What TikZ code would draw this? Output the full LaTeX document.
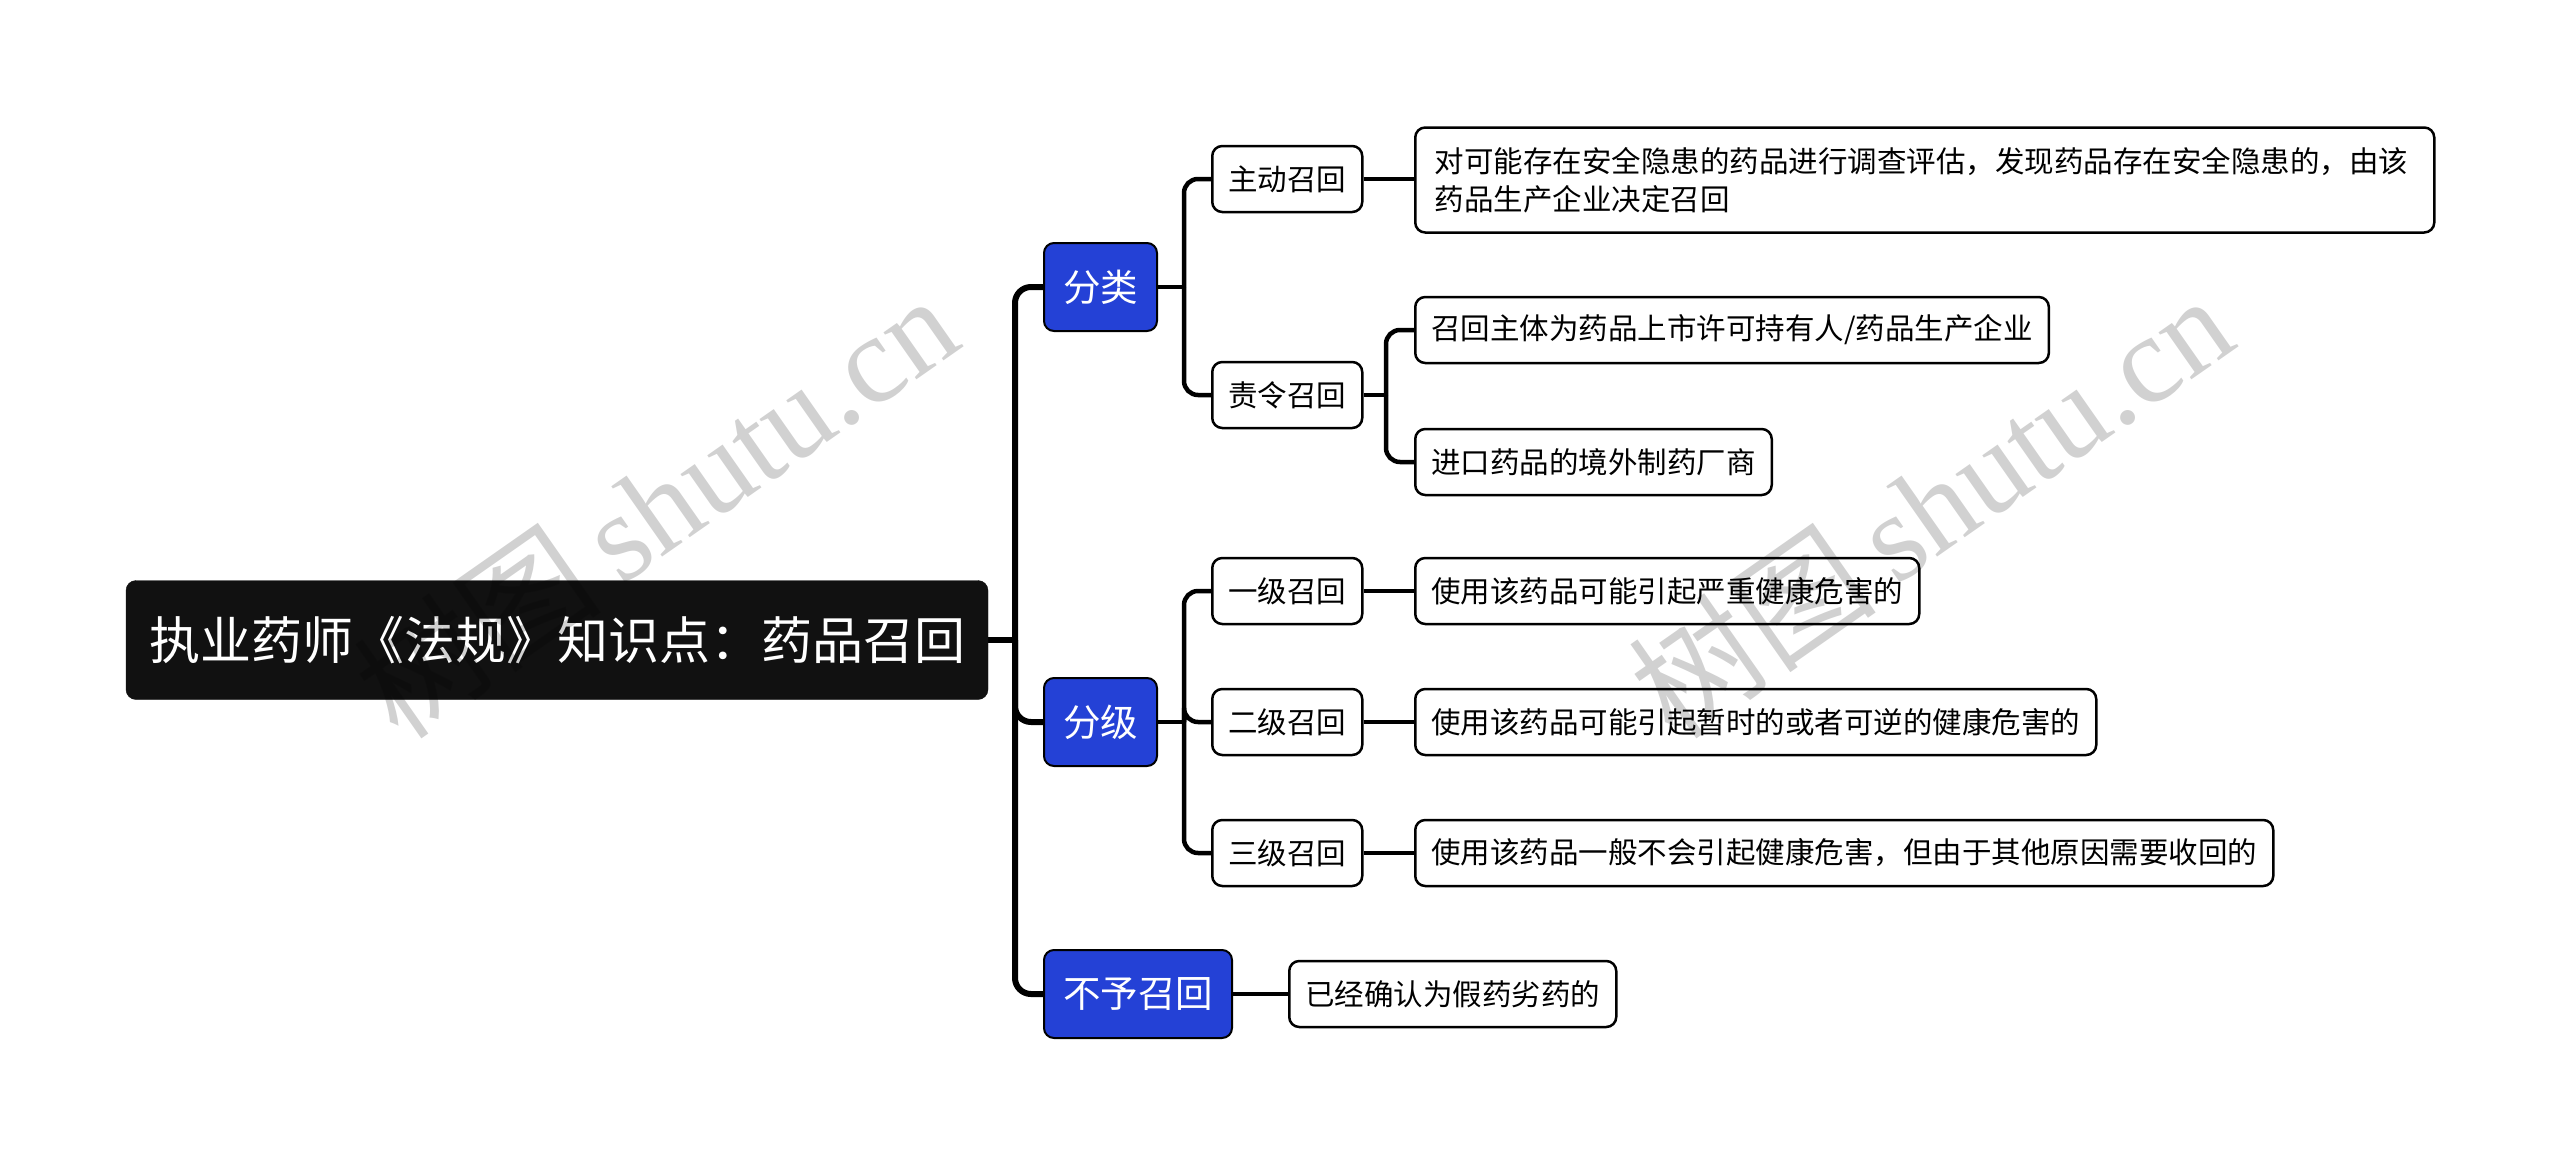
\documentclass[tikz,border=0pt]{standalone}
\usepackage{fontspec}
\setmainfont{Noto Sans CJK SC}
\newfontfamily\wmlat{Liberation Serif}
\usetikzlibrary{backgrounds}
\definecolor{rootbg}{HTML}{111111}
\definecolor{lvblue}{HTML}{2441D6}
\begin{document}
\begin{tikzpicture}[x=1pt,y=-1pt,
  rootbox/.style={fill=rootbg, draw=rootbg, rounded corners=10pt, text=white,
    minimum width=862pt, minimum height=119pt, inner sep=0pt,
    font=\fontsize{51}{60}\selectfont},
  bluebox/.style={fill=lvblue, draw=black, line width=2pt, rounded corners=10pt, text=white,
    minimum height=88pt, inner xsep=19pt, inner ysep=0pt, anchor=west,
    font=\fontsize{37.5}{45}\selectfont},
  midbox/.style={fill=white, draw=black, line width=2.5pt, rounded corners=10pt, text=black,
    minimum height=66pt, inner xsep=16pt, inner ysep=0pt, anchor=west,
    font=\fontsize{29.5}{38}\selectfont},
  leafbox/.style={midbox},
  conn0/.style={draw=black, line width=6pt, rounded corners=16pt},
  conn/.style={draw=black, line width=4.5pt, rounded corners=14pt},
  wm/.style={text=black, opacity=0.18, rotate=35, inner sep=0pt}
]
\useasboundingbox (0,0) rectangle (2560,1165);

% nodes
\node[rootbox] (root) at (557,640) {执业药师《法规》知识点：药品召回};

\node[bluebox] (fl) at (1043,287) {分类};
\node[bluebox] (fj) at (1043,722) {分级};
\node[bluebox] (bz) at (1043,994) {不予召回};

\node[midbox] (zd) at (1211,179) {主动召回};
\node[midbox] (zl) at (1211,395) {责令召回};
\node[midbox] (y1) at (1211,591) {一级召回};
\node[midbox] (y2) at (1211,722) {二级召回};
\node[midbox] (y3) at (1211,853) {三级召回};

\node[leafbox, minimum height=105pt, minimum width=1019pt, align=left, text width=980pt] (a1) at (1414,180)
  {对可能存在安全隐患的药品进行调查评估，发现药品存在安全隐患的，由该\\药品生产企业决定召回};
\node[leafbox] (b1) at (1414,330) {召回主体为药品上市许可持有人/药品生产企业};
\node[leafbox] (b2) at (1414,462) {进口药品的境外制药厂商};
\node[leafbox] (c1) at (1414,591) {使用该药品可能引起严重健康危害的};
\node[leafbox] (c2) at (1414,722) {使用该药品可能引起暂时的或者可逆的健康危害的};
\node[leafbox] (c3) at (1414,853) {使用该药品一般不会引起健康危害，但由于其他原因需要收回的};
\node[leafbox] (d1) at (1288,994) {已经确认为假药劣药的};

% junction coordinates
\coordinate (t0) at (1015,640);
\coordinate (jfl) at (1184,287);
\coordinate (jfj) at (1184,722);
\coordinate (jzl) at (1386,395);

\begin{scope}[on background layer]
\fill[white] (0,0) rectangle (2560,1165);
\draw[conn0] (root.east) -- (t0);
\draw[conn0] (t0) |- (fl.west);
\draw[conn0] (t0) |- (fj.west);
\draw[conn0] (t0) |- (bz.west);

\draw[conn] (fl.east) -- (jfl);
\draw[conn] (jfl) |- (zd.west);
\draw[conn] (jfl) |- (zl.west);

\draw[conn] (fj.east) -- (jfj);
\draw[conn] (jfj) |- (y1.west);
\draw[conn] (jfj) |- (y2.west);
\draw[conn] (jfj) |- (y3.west);

\draw[conn] (zd.east) -- (a1.west |- zd.east);
\draw[conn] (zl.east) -- (jzl);
\draw[conn] (jzl) |- (b1.west);
\draw[conn] (jzl) |- (b2.west);
\draw[conn] (y1.east) -- (c1.west);
\draw[conn] (y2.east) -- (c2.west);
\draw[conn] (y3.east) -- (c3.west);
\draw[conn] (bz.east) -- (d1.west);
\end{scope}

% watermarks
\node[wm] (w1) at (655,505) {\fontsize{125}{135}\selectfont 树图\wmlat\,shutu.cn};
\node[wm] (w2) at (1930,505) {\fontsize{125}{135}\selectfont 树图\wmlat\,shutu.cn};
\end{tikzpicture}
\end{document}
